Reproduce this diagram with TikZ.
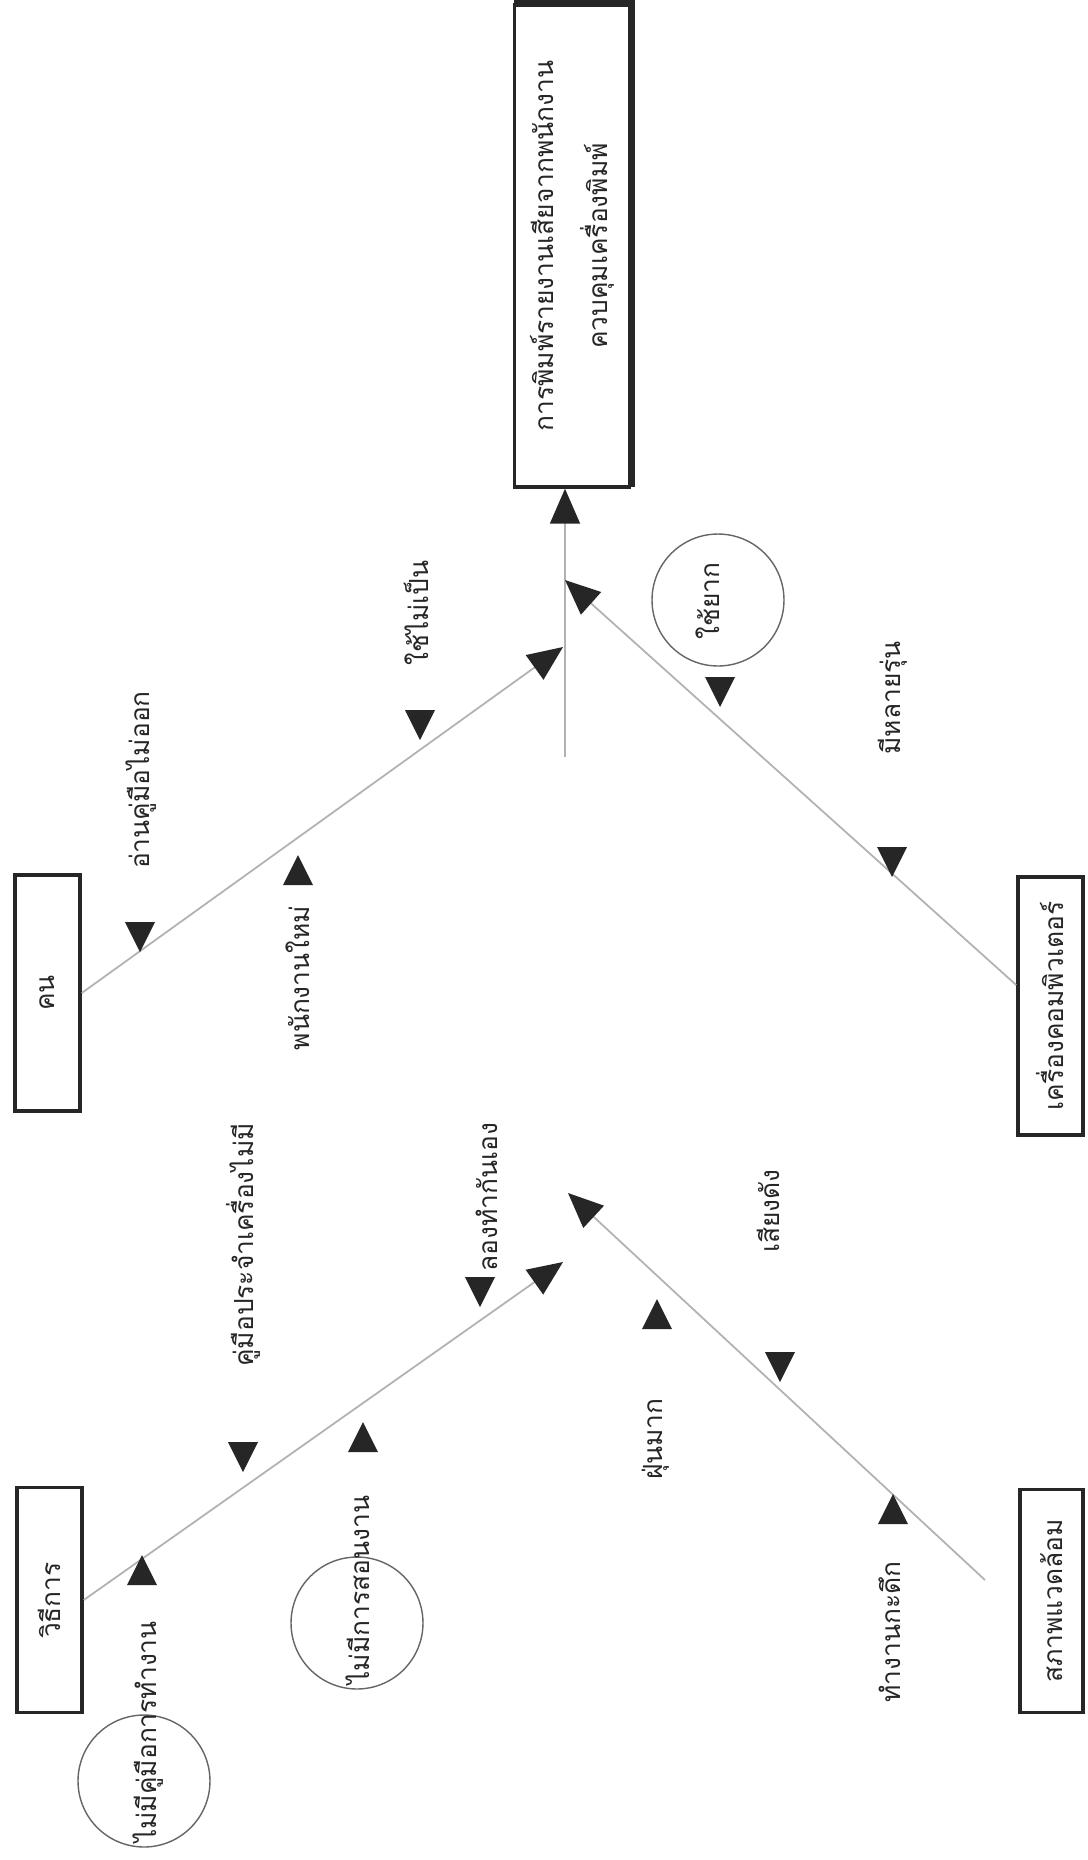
\documentclass[tikz,border=0pt]{standalone}
\usepackage{fontspec}
\newfontfamily\thai[Script=Thai]{Loma}
\usetikzlibrary{arrows.meta}
\newcommand\TriDn[2]{\fill[tri] (#1,#2) -- ++(-15,-30) -- ++(30,0) -- cycle;}
\newcommand\TriUp[2]{\fill[tri] (#1,#2) -- ++(-15,30) -- ++(30,0) -- cycle;}
\begin{document}
\begin{tikzpicture}[x=0.02cm,y=-0.02cm,
  font=\thai\fontsize{15}{18}\selectfont,
  lbl/.style={rotate=90,inner sep=0pt,text=black!85},
  catbox/.style={draw=black!85,line width=2pt,rotate=90,inner sep=0pt,text=black!85},
  bone/.style={draw=black!30,line width=1pt,-{Triangle[length=0.7cm,width=0.6cm,color=black!85]}},
  cloud/.style={draw=black!60,line width=0.8pt,circle,minimum size=2.64cm,inner sep=0pt},
  tri/.style={fill=black!85}]
\useasboundingbox[fill=white] (0,0) rectangle (1088,1860);

% head
\node[catbox,minimum width=9.64cm,minimum height=2.3cm,align=center,
      font=\thai\fontsize{15}{30.6}\selectfont] (head) at (572,246)
  {การพิมพ์รายงานเสียจากพนักงาน\\ควบคุมเครื่องพิมพ์};
\draw[black!85,line width=3pt] ([xshift=0.03cm,yshift=0.03cm]head.north east)
  -- ([xshift=0.03cm,yshift=0.03cm]head.south east)
  -- ([xshift=0.03cm,yshift=0.03cm]head.south west);

% category boxes
\node[catbox,minimum width=4.72cm,minimum height=1.3cm] (kon) at (47.5,993) {คน};
\node[catbox,minimum width=5.16cm,minimum height=1.3cm] (comp) at (1050.5,1006) {เครื่องคอมพิวเตอร์};
\node[catbox,minimum width=4.5cm,minimum height=1.3cm] (method) at (49.5,1600) {วิธีการ};
\node[catbox,minimum width=4.46cm,minimum height=1.26cm] (env) at (1051.5,1601) {สภาพแวดล้อม};

% spine and bones
\coordinate (sp0) at (565,757);
\coordinate (j1) at (563,647);
\coordinate (j2) at (565,580);
\coordinate (j3) at (563,1262);
\coordinate (j4) at (568,1193);
\coordinate (e4) at (985,1580);
\draw[bone] (sp0) -- (sp0 |- head.west);
\draw[bone] (kon.south) -- (j1);
\draw[bone] ([yshift=0.42cm]comp.north) -- (j2);
\draw[bone] (method.south) -- (j3);
\draw[bone] (e4) -- (j4);

% sub causes
\node[lbl] (l1) at (141,780) {อ่านคู่มือไม่ออก};
\TriDn{140}{952}
\node[lbl] (l2) at (416,613) {ใช้ไม่เป็น};
\TriDn{420}{740}
\node[lbl] (l3) at (298,978) {พนักงานใหม่};
\TriUp{298}{855}
\node[cloud] (c4) at (718,600) {};
\node[lbl] (l4) at (708,601) {ใช้ยาก};
\TriDn{720}{707}
\node[lbl] (l5) at (893,698) {มีหลายรุ่น};
\TriDn{892}{877}
\node[lbl] (l6) at (243,1245) {คู่มือประจำเครื่องไม่มี};
\TriDn{243}{1472}
\node[lbl] (l7) at (487,1197) {ลองทำกันเอง};
\TriDn{480}{1307}
\node[cloud] (c8) at (357,1623) {};
\node[lbl] (l8) at (358,1590) {ไม่มีการสอนงาน};
\TriUp{363}{1422}
\node[cloud] (c9) at (144,1781) {};
\node[lbl] (l9) at (148,1732) {ไม่มีคู่มือการทำงาน};
\TriUp{142}{1555}
\node[lbl] (l10) at (656,1439) {ฝุ่นมาก};
\TriUp{657}{1299}
\node[lbl] (l11) at (768,1211) {เสียงดัง};
\TriDn{780}{1382}
\node[lbl] (l12) at (890,1632) {ทำงานกะดึก};
\TriUp{893}{1494}
\end{tikzpicture}
\end{document}
